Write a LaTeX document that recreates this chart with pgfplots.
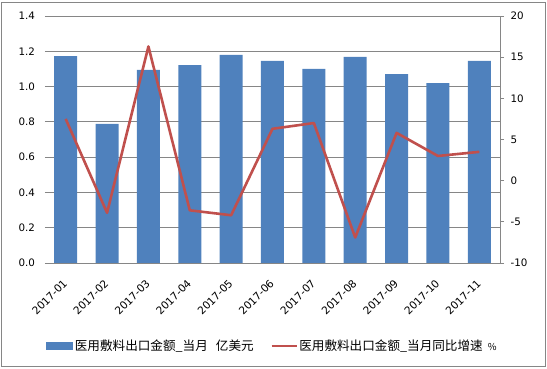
\documentclass[border=0pt]{standalone}
\usepackage{pgfplots}
\pgfplotsset{compat=1.18}
\usepackage{fontspec}
\setmainfont{DejaVu Sans}
\newfontfamily\cjk{Noto Sans CJK SC}
\definecolor{barblue}{HTML}{4F81BD}
\definecolor{linered}{HTML}{C0504D}
\definecolor{gridgray}{HTML}{868686}
\begin{document}
\begin{tikzpicture}
\useasboundingbox (-45pt,-106pt) rectangle (502pt,263pt);
\draw[gridgray, line width=0.8pt] (-43.5pt,-103.5pt) rectangle (500.5pt,260.5pt);
\begin{axis}[
  at={(0pt,0pt)}, anchor=south west, scale only axis,
  width=455pt, height=247pt,
  xmin=-0.5, xmax=10.5, ymin=0, ymax=1.4,
  ytick={0,0.2,0.4,0.6,0.8,1.0,1.2,1.4},
  xtick={0,...,10},
  xticklabels={2017-01,2017-02,2017-03,2017-04,2017-05,2017-06,2017-07,2017-08,2017-09,2017-10,2017-11},
  axis line style={draw=none},
  tick style={draw=none},
  ymajorgrids, grid style={gridgray, line width=0.8pt},
  /pgf/number format/assume math mode=true,
  yticklabel style={/pgf/number format/fixed, /pgf/number format/fixed zerofill, /pgf/number format/precision=1, font=\fontsize{10.3}{12}\selectfont, xshift=-6.5pt},
  xticklabel style={xshift=2pt, yshift=-16pt, rotate=45, anchor=east, font=\fontsize{10.6}{12}\selectfont},
]
\addplot[ybar, bar width=23pt, fill=barblue, draw=none] coordinates {
(0,1.173) (1,0.788) (2,1.094) (3,1.122) (4,1.179) (5,1.145) (6,1.100) (7,1.168) (8,1.071) (9,1.020) (10,1.145)
};
\end{axis}
\begin{axis}[
  at={(0pt,0pt)}, anchor=south west, scale only axis,
  width=455pt, height=247pt,
  xmin=-0.5, xmax=10.5, ymin=-10, ymax=20,
  ytick={-10,-5,0,5,10,15,20},
  axis x line=none,
  axis y line*=right,
  y axis line style={gridgray, line width=0.8pt},
  tick align=outside, major tick length=4pt,
  ytick style={gridgray, line width=0.8pt},
  /pgf/number format/assume math mode=true,
  yticklabel style={font=\fontsize{10.3}{12}\selectfont, xshift=3pt},
  legend style={at={(axis description cs:0.5,0)}, anchor=center, yshift=-83pt,
    draw=none, fill=none, font=\cjk\fontsize{12.6}{14}\selectfont,
    /tikz/every even column/.append style={column sep=15pt}},
  legend columns=2,
]
\addlegendimage{legend image code/.code={\fill[barblue] (0pt,-3.5pt) rectangle (26pt,3.5pt);}}
\addlegendentry{医用敷料出口金额\_当月\hspace{8pt}亿美元}
\addplot[linered, line width=2.6pt, line join=round, mark=none,
  legend image code/.code={\draw[linered, line width=1.6pt] (0pt,0pt) -- (25pt,0pt);}] coordinates {
(0,7.5) (1,-3.9) (2,16.3) (3,-3.6) (4,-4.2) (5,6.3) (6,7.0) (7,-6.9) (8,5.8) (9,3.0) (10,3.5)
};
\addlegendentry{医用敷料出口金额\_当月同比增速\hspace{5pt}{\fontsize{9.5}{10}\selectfont\%}}
\end{axis}
\end{tikzpicture}
\end{document}
